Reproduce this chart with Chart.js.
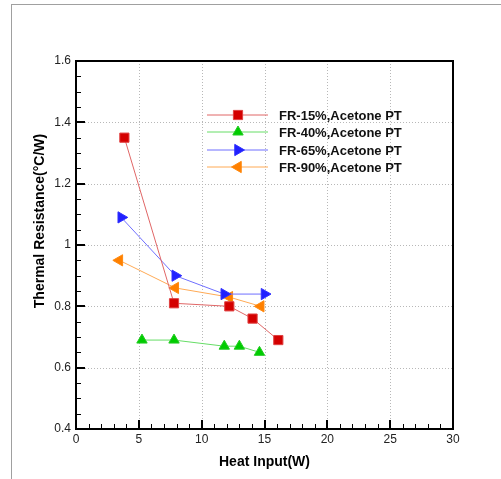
<!DOCTYPE html>
<html>
<head>
<meta charset="utf-8">
<script src="https://cdn.jsdelivr.net/npm/chart.js@4/dist/chart.umd.min.js"></script>
<style>
  html, body { margin: 0; padding: 0; background: #fff; }
  canvas { display: block; }
</style>
</head>
<body>
<canvas id="resistanceChart" width="501" height="479"></canvas>
<script>
// values
const seriesNames = ["FR-15%,Acetone PT", "FR-40%,Acetone PT", "FR-65%,Acetone PT", "FR-90%,Acetone PT"];

const heatInput15 = [3.85, 7.8, 12.2, 14.05, 16.1];
const resistance15 = [1.35, 0.81, 0.80, 0.76, 0.69];

const heatInput40 = [5.25, 7.8, 11.8, 13.0, 14.6];
const resistance40 = [0.69, 0.69, 0.67, 0.67, 0.65];

const heatInput65 = [3.6, 7.9, 11.8, 15.0];
const resistance65 = [1.09, 0.90, 0.84, 0.84];

const heatInput90 = [3.45, 7.9, 12.2, 14.7];
const resistance90 = [0.95, 0.86, 0.83, 0.80];

const xTicks = [0, 5, 10, 15, 20, 25, 30];
const yTicks = [0.4, 0.6, 0.8, 1.0, 1.2, 1.4, 1.6];

function toPoints(xs, ys) {
  return xs.map((x, i) => ({ x: x, y: ys[i] }));
}

// grey page border, dotted grid, inward ticks, black frame
const framePlugin = {
  id: "frame",
  beforeDraw(chart) {
    const ctx = chart.ctx;
    ctx.save();
    ctx.strokeStyle = "#a0a0a0";
    ctx.lineWidth = 1;
    ctx.beginPath();
    ctx.moveTo(11, 4.5);
    ctx.lineTo(501, 4.5);
    ctx.moveTo(11.5, 4);
    ctx.lineTo(11.5, 479);
    ctx.stroke();
    ctx.restore();
  },
  beforeDatasetsDraw(chart) {
    const { ctx, chartArea: a, scales } = chart;
    ctx.save();
    ctx.strokeStyle = "#b8b8b8";
    ctx.lineWidth = 1;
    ctx.setLineDash([1, 2]);
    ctx.beginPath();
    xTicks.slice(1, -1).forEach((v) => {
      const px = Math.round(scales.x.getPixelForValue(v)) + 0.5;
      ctx.moveTo(px, a.top);
      ctx.lineTo(px, a.bottom);
    });
    yTicks.slice(1, -1).forEach((v) => {
      const py = Math.round(scales.y.getPixelForValue(v)) + 0.5;
      ctx.moveTo(a.left, py);
      ctx.lineTo(a.right, py);
    });
    ctx.stroke();
    ctx.restore();
  },
  afterDatasetsDraw(chart) {
    const { ctx, chartArea: a, scales } = chart;
    const x = scales.x;
    const y = scales.y;
    ctx.save();
    ctx.strokeStyle = "#000";

    // minor ticks
    ctx.lineWidth = 1;
    ctx.beginPath();
    for (let v = 1; v < 30; v++) {
      if (v % 5 === 0) continue;
      const px = Math.round(x.getPixelForValue(v)) + 0.5;
      ctx.moveTo(px, a.bottom);
      ctx.lineTo(px, a.bottom - 5);
    }
    for (let i = 1; i < 24; i++) {
      if (i % 4 === 0) continue;
      const py = Math.round(y.getPixelForValue(0.4 + i * 0.05)) + 0.5;
      ctx.moveTo(a.left, py);
      ctx.lineTo(a.left + 5, py);
    }
    ctx.stroke();

    // major ticks
    ctx.lineWidth = 2;
    ctx.beginPath();
    xTicks.forEach((v) => {
      const px = Math.round(x.getPixelForValue(v));
      ctx.moveTo(px, a.bottom);
      ctx.lineTo(px, a.bottom - 9);
    });
    yTicks.forEach((v) => {
      const py = Math.round(y.getPixelForValue(v));
      ctx.moveTo(a.left, py);
      ctx.lineTo(a.left + 9, py);
    });
    ctx.stroke();

    ctx.lineWidth = 2;
    ctx.strokeRect(a.left, a.top, a.right - a.left, a.bottom - a.top);

    // y axis title
    ctx.fillStyle = "#000";
    ctx.font = "bold 14px 'Liberation Sans', Arial, sans-serif";
    ctx.textAlign = "center";
    ctx.textBaseline = "middle";
    ctx.translate(40, 221);
    ctx.rotate(-Math.PI / 2);
    ctx.fillText("Thermal Resistance(°C/W)", 0, 0);
    ctx.restore();
  },
};

// legend inside the plot
const legendPlugin = {
  id: "insideLegend",
  afterDatasetsDraw(chart) {
    const ctx = chart.ctx;
    const rowY = [115, 132, 150, 167];
    ctx.save();
    chart.data.datasets.forEach((ds, i) => {
      const y = rowY[i];
      ctx.strokeStyle = ds.borderColor;
      ctx.lineWidth = 1;
      ctx.beginPath();
      ctx.moveTo(207, y);
      ctx.lineTo(268, y);
      ctx.stroke();

      ctx.fillStyle = ds.pointBackgroundColor;
      ctx.strokeStyle = ds.pointBorderColor;
      Chart.helpers.drawPoint(
        ctx,
        {
          pointStyle: ds.pointStyle,
          rotation: ds.pointRotation || 0,
          radius: ds.pointRadius,
          borderWidth: 1,
        },
        238,
        y
      );

      ctx.fillStyle = "#111";
      ctx.font = "bold 13px 'Liberation Sans', Arial, sans-serif";
      ctx.textAlign = "left";
      ctx.textBaseline = "middle";
      ctx.fillText(ds.label, 279, y + 1);
    });
    ctx.restore();
  },
};

const tickFont = { family: "'Liberation Sans', Arial, sans-serif", size: 12 };

const ctx = document.getElementById("resistanceChart").getContext("2d");
new Chart(ctx, {
  type: "scatter",
  data: {
    datasets: [
      {
        label: seriesNames[0],
        data: toPoints(heatInput15, resistance15),
        showLine: true,
        borderColor: "#e06666",
        borderWidth: 1,
        pointStyle: "rect",
        pointRadius: 6.5,
        pointBackgroundColor: "#d40000",
        pointBorderColor: "#e04040",
        pointBorderWidth: 1,
      },
      {
        label: seriesNames[1],
        data: toPoints(heatInput40, resistance40),
        showLine: true,
        borderColor: "#66dd66",
        borderWidth: 1,
        pointStyle: "triangle",
        pointRadius: 6,
        pointBackgroundColor: "#00cc00",
        pointBorderColor: "#22cc22",
        pointBorderWidth: 1,
      },
      {
        label: seriesNames[2],
        data: toPoints(heatInput65, resistance65),
        showLine: true,
        borderColor: "#6f6fff",
        borderWidth: 1,
        pointStyle: "triangle",
        pointRotation: 90,
        pointRadius: 6.5,
        pointBackgroundColor: "#2020ff",
        pointBorderColor: "#3030ff",
        pointBorderWidth: 1,
      },
      {
        label: seriesNames[3],
        data: toPoints(heatInput90, resistance90),
        showLine: true,
        borderColor: "#ffaa55",
        borderWidth: 1,
        pointStyle: "triangle",
        pointRotation: -90,
        pointRadius: 6.5,
        pointBackgroundColor: "#ff8000",
        pointBorderColor: "#ff8a10",
        pointBorderWidth: 1,
      },
    ],
  },
  options: {
    responsive: false,
    animation: false,
    layout: { padding: { top: 61, right: 48, left: 0, bottom: 0 } },
    plugins: {
      legend: { display: false },
      tooltip: { enabled: false },
    },
    scales: {
      x: {
        type: "linear",
        min: 0,
        max: 30,
        afterFit: (s) => { s.height = 50; },
        afterBuildTicks: (s) => { s.ticks = xTicks.map((v) => ({ value: v })); },
        ticks: {
          padding: 3,
          color: "#222",
          font: tickFont,
          callback: (v) => String(v),
        },
        grid: { display: false, drawTicks: false },
        border: { display: false },
        title: {
          display: true,
          text: "Heat Input(W)",
          color: "#000",
          padding: { top: 0, bottom: 8 },
          font: { family: "'Liberation Sans', Arial, sans-serif", size: 14, weight: "bold" },
        },
      },
      y: {
        type: "linear",
        min: 0.4,
        max: 1.6,
        afterFit: (s) => { s.width = 76; },
        afterBuildTicks: (s) => { s.ticks = yTicks.map((v) => ({ value: v })); },
        ticks: {
          padding: 5,
          color: "#222",
          font: tickFont,
          callback: (v) => String(Math.round(v * 10) / 10),
        },
        grid: { display: false, drawTicks: false },
        border: { display: false },
      },
    },
  },
  plugins: [framePlugin, legendPlugin],
});
</script>
</body>
</html>
